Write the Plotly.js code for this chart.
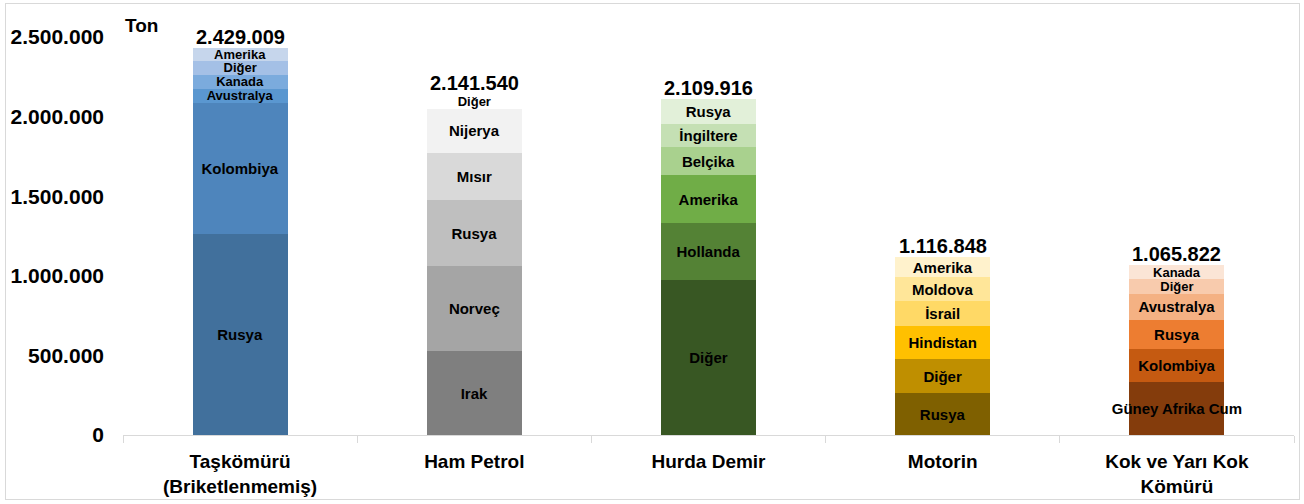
<!DOCTYPE html>
<html>
<head>
<meta charset="utf-8">
<script src="https://cdn.plot.ly/plotly-3.0.1.min.js"></script>
<style>
  html, body { margin: 0; padding: 0; background: #fff; }
  #wrap { position: relative; width: 1304px; height: 504px; }
  #chart { width: 1304px; height: 504px; }
  #frame { position: absolute; left: 5px; top: 3px; width: 1293px; height: 495px; border: 1px solid #d9d9d9; pointer-events: none; }
</style>
</head>
<body>
<div id="wrap"><div id="chart"></div><div id="frame"></div></div>
<script>
// ---- Data ----
const categories = ["Taşkömürü<br>(Briketlenmemiş)", "Ham Petrol", "Hurda Demir", "Motorin", "Kok ve Yarı Kok<br>Kömürü"];
const totals = [2429009, 2141540, 2109916, 1116848, 1065822];

const coalCountries = ["Rusya", "Kolombiya", "Avustralya", "Kanada", "Diğer", "Amerika"];
const coalValues    = [1260000, 828000, 88000, 88000, 84000, 81009];

const crudeCountries = ["Irak", "Norveç", "Rusya", "Mısır", "Nijerya", "Diğer"];
const crudeValues    = [527000, 534600, 413200, 297500, 274800, 94440];

const scrapCountries = ["Diğer", "Hollanda", "Amerika", "Belçika", "İngiltere", "Rusya"];
const scrapValues    = [971700, 358500, 301900, 176100, 144700, 157016];

const dieselCountries = ["Rusya", "Diğer", "Hindistan", "İsrail", "Moldova", "Amerika"];
const dieselValues    = [261000, 213800, 207500, 157200, 150900, 126448];

const cokeCountries = ["Güney Afrika Cum", "Kolombiya", "Rusya", "Avustralya", "Diğer", "Kanada"];
const cokeValues    = [330200, 209400, 184900, 159100, 94300, 87922];

// ---- Styles ----
const coalColors   = ["#41709C", "#4E85BC", "#5A97D0", "#7BABDD", "#A4C0E6", "#C6D6EC"];
const crudeColors  = ["#7F7F7F", "#A5A5A5", "#BFBFBF", "#D9D9D9", "#F2F2F2", "#FFFFFF"];
const scrapColors  = ["#385723", "#548235", "#70AD47", "#A9D18E", "#C5E0B4", "#E2F0D9"];
const dieselColors = ["#7F6000", "#BF8F00", "#FFC000", "#FFD966", "#FFE699", "#FFF2CC"];
const cokeColors   = ["#843C0C", "#C55A11", "#ED7D31", "#F4B183", "#F8CBAD", "#FBE5D6"];

const groups = [
  [coalCountries, coalValues, coalColors],
  [crudeCountries, crudeValues, crudeColors],
  [scrapCountries, scrapValues, scrapColors],
  [dieselCountries, dieselValues, dieselColors],
  [cokeCountries, cokeValues, cokeColors]
];

const FONT = "Liberation Sans, Arial, sans-serif";
const traces = [];
groups.forEach((g, ci) => {
  const [names, vals, cols] = g;
  names.forEach((n, i) => {
    traces.push({
      type: "bar",
      x: [categories[ci]],
      y: [vals[i]],
      text: [n],
      textposition: "inside",
      insidetextanchor: "middle",
      textangle: 0,
      constraintext: "none",
      cliponaxis: false,
      textfont: { family: FONT, size: vals[i] < 95000 ? 13 : 15, color: "#000000", weight: "bold" },
      marker: { color: cols[i], line: { width: 0 } },
      hoverinfo: "skip",
      showlegend: false
    });
  });
});

function fmt(n) { return String(n).replace(/\B(?=(\d{3})+(?!\d))/g, "."); }

const annotations = totals.map((t, i) => ({
  x: categories[i], y: t, xref: "x", yref: "y",
  text: fmt(t), showarrow: false, yanchor: "bottom", yshift: -2,
  font: { family: FONT, size: 20, color: "#000000", weight: "bold" }
}));
annotations.push({
  xref: "paper", yref: "paper", x: 0.0, y: 1.0, xanchor: "left", yanchor: "bottom",
  xshift: 0, yshift: -1,
  text: "Ton", showarrow: false,
  font: { family: FONT, size: 19, color: "#000000", weight: "bold" }
});

const layout = {
  width: 1304, height: 504,
  margin: { l: 123, r: 10, t: 37, b: 69 },
  paper_bgcolor: "#ffffff", plot_bgcolor: "#ffffff",
  barmode: "stack",
  bargap: 0.595,
  separators: ",.",
  font: { family: FONT, color: "#000000" },
  xaxis: {
    type: "category",
    showline: true, linecolor: "#d9d9d9", linewidth: 1,
    ticks: "outside", tickson: "boundaries", ticklen: 7, tickcolor: "#d9d9d9",
    ticklabelstandoff: 9,
    tickfont: { family: FONT, size: 19, color: "#000000", weight: "bold" },
    showgrid: false, zeroline: false, fixedrange: true
  },
  yaxis: {
    range: [0, 2500000], dtick: 500000, tickformat: ",d",
    showline: false, showgrid: false, zeroline: false,
    ticks: "", ticklabelstandoff: 18,
    tickfont: { family: FONT, size: 21, color: "#000000", weight: "bold" },
    fixedrange: true
  },
  annotations: annotations
};

Plotly.newPlot("chart", traces, layout, { displayModeBar: false, staticPlot: true });
</script>
</body>
</html>
